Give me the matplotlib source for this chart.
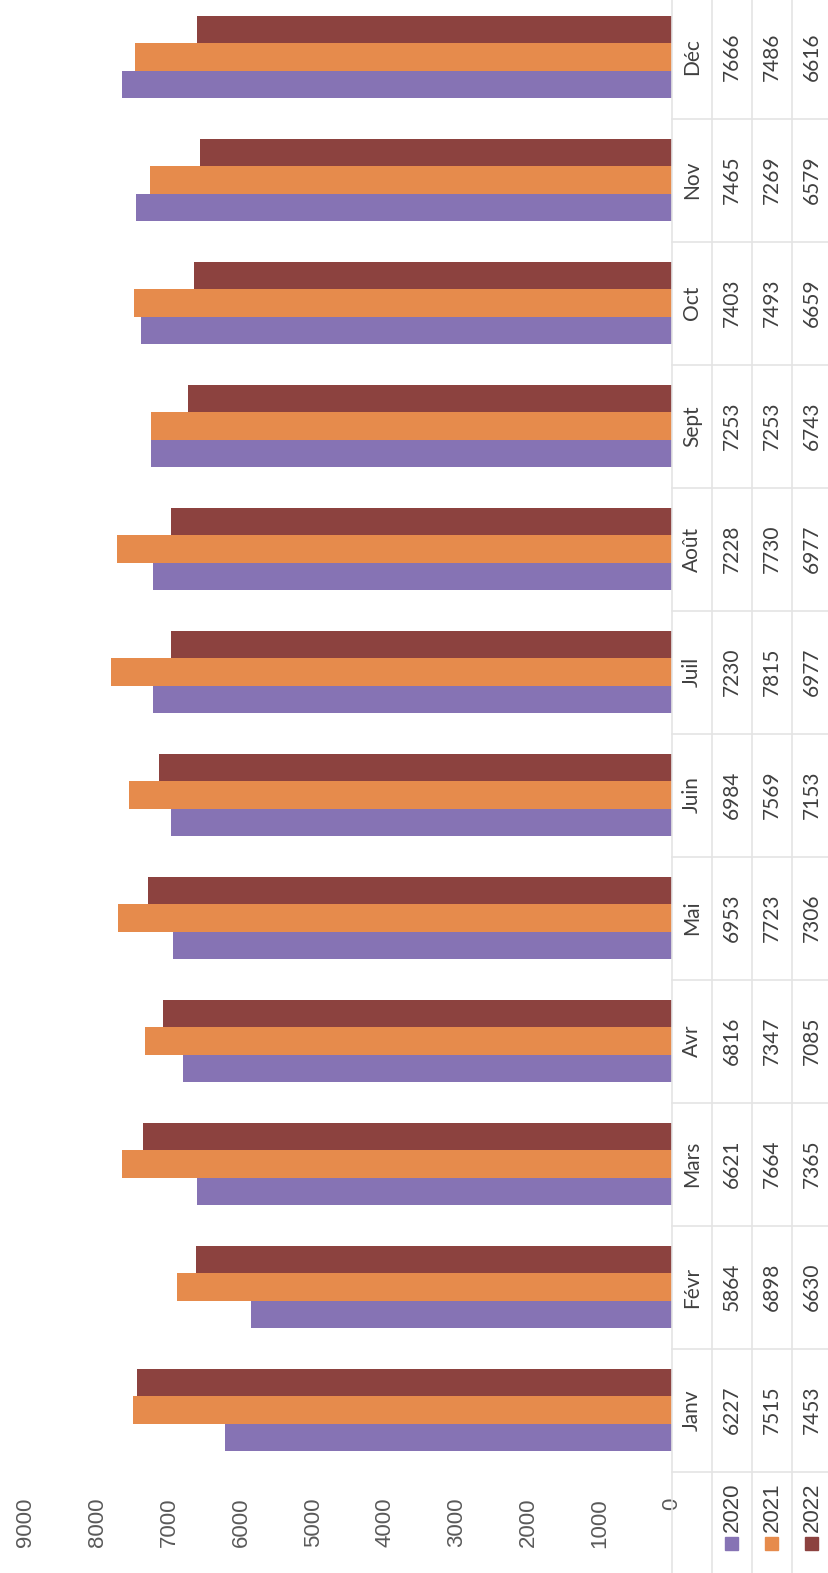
import matplotlib.pyplot as plt
from matplotlib.lines import Line2D
from matplotlib.patches import Rectangle
from matplotlib.transforms import blended_transform_factory

months = ["Janv", "Févr", "Mars", "Avr", "Mai", "Juin",
          "Juil", "Août", "Sept", "Oct", "Nov", "Déc"]
years = ["2020", "2021", "2022"]
v2020 = [6227, 5864, 6621, 6816, 6953, 6984, 7230, 7228, 7253, 7403, 7465, 7666]
v2021 = [7515, 6898, 7664, 7347, 7723, 7569, 7815, 7730, 7253, 7493, 7269, 7486]
v2022 = [7453, 6630, 7365, 7085, 7306, 7153, 6977, 6977, 6743, 6659, 6579, 6616]
colors = ["#8673b4", "#e68b4c", "#8c423f"]
ticks = list(range(0, 9001, 1000))

W, H = 829, 1573
fig = plt.figure(figsize=(W / 100, H / 100), dpi=100)

# plot area in pixels (chart is drawn turned a quarter turn)
x0, x1 = 26, 672
ytop, ybot = -4.5, 1471.5
ax = fig.add_axes([x0 / W, 1 - ybot / H, (x1 - x0) / W, (ybot - ytop) / H])

bw = 1 / 4.5
pos = list(range(len(months)))
for k, (vals, c) in enumerate(zip([v2020, v2021, v2022], colors)):
    ax.barh([p + (k - 1) * bw for p in pos], vals, height=bw, color=c)

ax.set_xlim(9000, 0)
ax.set_ylim(-0.5, len(months) - 0.5)
ax.set_yticks([])
ax.set_xticks(ticks)
ax.set_xticklabels([str(t) for t in ticks], rotation=90, fontsize=16,
                   family="Liberation Sans", color="#595959")
ax.tick_params(axis="x", length=0, pad=19)
for s in ["top", "left", "bottom", "right"]:
    ax.spines[s].set_visible(False)

# data table to the right of the bars
grid = "#e4e4e4"
col_edges = [672, 712, 752, 792, 832]
col_mid = [692, 732, 772, 812]
trans = blended_transform_factory(fig.transFigure, ax.transData)

for xe in col_edges:
    fig.add_artist(Line2D([xe / W, xe / W], [0, 1], color=grid, lw=1.2,
                          transform=fig.transFigure))
for b in [p - 0.5 for p in pos]:
    fig.add_artist(Line2D([col_edges[0] / W, col_edges[-1] / W], [b, b],
                          color=grid, lw=1.2, transform=trans))

tfont = dict(family="Lato", fontsize=15, color="#404040", rotation=90,
             ha="center", va="center")
for i, m in enumerate(months):
    ax.text(col_mid[0] / W, i, m, transform=trans, **tfont)
    for j, vals in enumerate([v2020, v2021, v2022]):
        ax.text(col_mid[j + 1] / W, i, str(vals[i]), transform=trans, **tfont)

# legend cells under the table
for j, (y, c) in enumerate(zip(years, colors)):
    xm = col_mid[j + 1]
    fig.text(xm / W, 1 - 1482 / H, y, ha="center", va="top", rotation=90,
             family="Liberation Sans", fontsize=16, color="#404040")
    fig.add_artist(Rectangle(((xm - 6.5) / W, 1 - 1550 / H), 13 / W, 13 / H,
                             color=c, transform=fig.transFigure))

fig.savefig("out.png", dpi=100, facecolor="white")
